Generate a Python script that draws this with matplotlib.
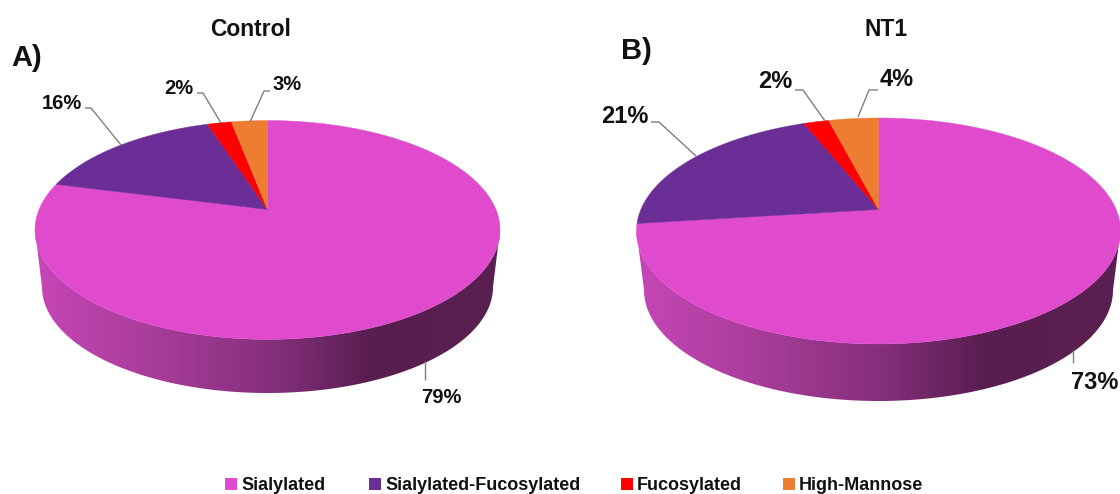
import numpy as np
import matplotlib
matplotlib.use("Agg")
import matplotlib.pyplot as plt
from matplotlib.colors import LinearSegmentedColormap
from matplotlib.patches import Polygon, Rectangle

categories = ["Sialylated", "Sialylated-Fucosylated", "Fucosylated", "High-Mannose"]
control_values = [79, 16, 2, 3]
nt1_values = [73, 21, 2, 4]
slice_colors = ["#E04ACC", "#6B2E96", "#FF0000", "#ED7D31"]

plt.rcParams["font.family"] = ["Liberation Sans", "DejaVu Sans"]
plt.rcParams["font.weight"] = "bold"

WIDTH, HEIGHT = 1120, 494
fig = plt.figure(figsize=(WIDTH / 100, HEIGHT / 100), dpi=100)
ax = fig.add_axes([0, 0, 1, 1])
ax.set_xlim(0, WIDTH)
ax.set_ylim(HEIGHT, 0)
ax.axis("off")

wall_cmap = LinearSegmentedColormap.from_list(
    "wall",
    [(0.0, "#C646B6"), (0.25, "#A83D9A"), (0.5, "#86307C"),
     (0.72, "#581E50"), (1.0, "#5A2050")],
)


def project(theta, cx, cy, sx, sy, k):
    """Perspective view of a unit disc, theta clockwise from twelve o'clock."""
    x, y = np.sin(theta), np.cos(theta)
    w = 1 + k * y
    return cx + sx * x / w, cy - sy * y / w


def draw_pie(values, cx, cy, sx, sy, k, base_cy, base_rx, base_ry):
    half_w = sx / np.sqrt(1 - k ** 2)
    top_cy = cy + sy * k / (1 - k ** 2)
    top_ry = sy / (1 - k ** 2)

    # side wall: lower rim of the top face joined to the lower rim of the base
    t = np.linspace(0, np.pi, 240)
    top_x = cx + half_w * np.cos(t)
    top_y = top_cy + top_ry * np.sin(t)
    base_x = cx + base_rx * np.cos(t[::-1])
    base_y = base_cy + base_ry * np.sin(t[::-1])
    outline = np.column_stack([np.r_[top_x, base_x], np.r_[top_y, base_y]])
    clip = Polygon(outline, closed=True, transform=ax.transData)
    gradient = ax.imshow(
        np.linspace(0, 1, 512)[None, :], cmap=wall_cmap, aspect="auto",
        extent=(cx - half_w, cx + half_w, base_cy + base_ry + 2, top_cy - 2),
        zorder=1,
    )
    gradient.set_clip_path(clip)

    # top face: one polygon per category, sized from its percentage
    edges = np.cumsum(np.r_[0, values]) / np.sum(values) * 2 * np.pi
    for start, stop, color in zip(edges[:-1], edges[1:], slice_colors):
        arc = np.linspace(start, stop, 300)
        px, py = project(arc, cx, cy, sx, sy, k)
        ax.fill(np.r_[cx, px], np.r_[cy, py], color=color, lw=0.3, zorder=2)


draw_pie(control_values, 267.5, 209.5, 228.4, 105.6, 0.187, 287, 225.5, 106)
draw_pie(nt1_values, 878.5, 209.5, 237.6, 108.9, 0.19, 290, 234.5, 111)
ax.set_xlim(0, WIDTH)
ax.set_ylim(HEIGHT, 0)


def leader(points):
    xs, ys = zip(*points)
    ax.plot(xs, ys, color="#7F7F7F", lw=1.0, zorder=3, solid_capstyle="butt")


def value_label(x, y, value, size):
    ax.text(x, y, f"{value}%", fontsize=size, ha="center", va="center",
            color="#111111", zorder=4)


# Control panel callouts
leader([(85, 108), (91, 108), (121, 145)])
leader([(197, 93), (203, 93), (221, 123)])
leader([(270, 91), (264, 91), (250, 122)])
leader([(425, 361), (425, 380)])
value_label(62, 103, control_values[1], 14.5)
value_label(179, 88, control_values[2], 14.5)
value_label(287, 85, control_values[3], 14.5)
value_label(441, 397, control_values[0], 14.5)

# NT1 panel callouts
leader([(651, 122), (659, 122), (696, 156)])
leader([(795, 90), (803, 90), (825, 121)])
leader([(878, 90), (869, 90), (858, 117)])
leader([(1073, 350), (1073, 363)])
value_label(625, 116, nt1_values[1], 17)
value_label(775, 81, nt1_values[2], 17)
value_label(897, 80, nt1_values[3], 17)
value_label(1095, 382, nt1_values[0], 17)

# Titles and panel letters
ax.text(251, 29, "Control", fontsize=16.5, ha="center", va="center", color="#111111")
ax.text(886, 29, "NT1", fontsize=16.5, ha="center", va="center", color="#111111")
ax.text(27, 58, "A)", fontsize=21, ha="center", va="center", color="#111111")
ax.text(636, 51, "B)", fontsize=21, ha="center", va="center", color="#111111")

# Legend row
legend_square_x = [225, 369, 621, 783]
for x, name, color in zip(legend_square_x, categories, slice_colors):
    ax.add_patch(Rectangle((x, 478), 12, 12, facecolor=color, edgecolor="none", zorder=3))
    ax.text(x + 16, 485, name, fontsize=13, ha="left", va="center", color="#111111")

fig.savefig("out.png", dpi=100)
